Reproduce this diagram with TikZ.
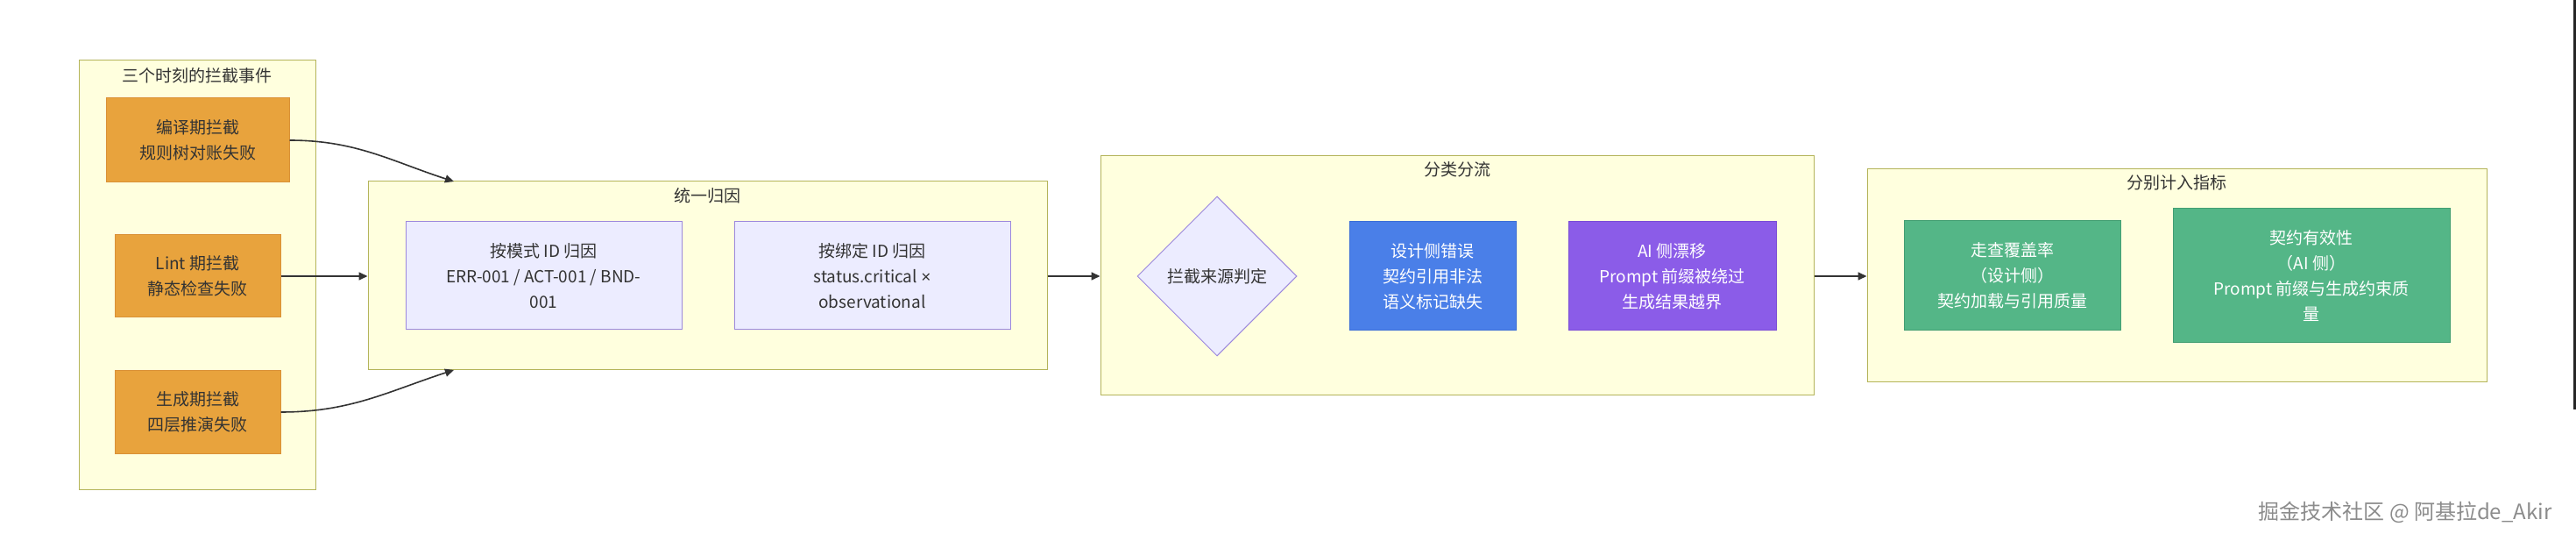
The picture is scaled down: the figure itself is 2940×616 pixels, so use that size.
\documentclass[tikz,border=0pt]{standalone}
\usepackage{fontspec}
\setmainfont{Noto Sans CJK SC}
\newfontfamily\symfont{Liberation Sans}
\usetikzlibrary{arrows.meta, shapes.geometric}

\definecolor{grpfill}{HTML}{FFFFDE}
\definecolor{grpline}{HTML}{B4B45A}
\definecolor{evtfill}{HTML}{E8A33D}
\definecolor{evtline}{HTML}{D99136}
\definecolor{attrfill}{HTML}{ECECFF}
\definecolor{attrline}{HTML}{9C88DC}
\definecolor{designfill}{HTML}{4A7FE8}
\definecolor{designline}{HTML}{3B6DD6}
\definecolor{driftfill}{HTML}{8B5CE8}
\definecolor{driftline}{HTML}{7A4BD6}
\definecolor{metricfill}{HTML}{54B687}
\definecolor{metricline}{HTML}{439E72}
\definecolor{txt}{HTML}{333333}

\tikzset{
  grp/.style={draw=grpline, fill=grpfill, line width=0.5pt, inner sep=0pt},
  grptitle/.style={text=txt},
  evt/.style={draw=evtline, fill=evtfill, text=txt, align=center, line width=0.5pt},
  attr/.style={draw=attrline, fill=attrfill, text=txt, align=center, line width=0.5pt},
  judge/.style={diamond, aspect=1, draw=attrline, fill=attrfill, text=txt, inner sep=0pt, line width=0.5pt},
  design/.style={draw=designline, fill=designfill, text=white, align=center, line width=0.5pt},
  drift/.style={draw=driftline, fill=driftfill, text=white, align=center, line width=0.5pt},
  metric/.style={draw=metricline, fill=metricfill, text=white, align=center, line width=0.5pt},
  flow/.style={draw=txt, line width=0.8pt},
  wmark/.style={text=black!45, font=\fontsize{12}{14}\selectfont}
}

\begin{document}
\begin{tikzpicture}[x=0.5pt, y=0.5pt, >={Triangle[length=5pt, width=4.5pt]},
    font=\fontsize{9.5}{14.5}\selectfont]
  \fill[white] (0,0) rectangle (2940,616);
  \useasboundingbox (0,0) rectangle (2940,616);

  % Groups
  \node[grp, minimum width=135pt, minimum height=245pt] (g1) at (225,302) {};
  \node[grp, minimum width=387.5pt, minimum height=107.5pt] (g2) at (807.5,301.5) {};
  \node[grp, minimum width=407pt, minimum height=136.5pt] (g3) at (1663,301.5) {};
  \node[grp, minimum width=353.5pt, minimum height=121.5pt] (g4) at (2484.5,301.5) {};
  \node[grptitle] (t1) at (225,530) {三个时刻的拦截事件};
  \node[grptitle] (t2) at (807.5,393) {统一归因};
  \node[grptitle] (t3) at (1663,423) {分类分流};
  \node[grptitle] (t4) at (2484.5,408) {分别计入指标};

  % Nodes
  \node[evt, minimum width=104.5pt, minimum height=48pt] (a) at (225.5,456) {编译期拦截\\规则树对账失败};
  \node[evt, minimum width=94.5pt, minimum height=47pt] (b) at (225.5,301) {Lint 期拦截\\静态检查失败};
  \node[evt, minimum width=94.5pt, minimum height=47.5pt] (c) at (225.5,146) {生成期拦截\\四层推演失败};
  \node[attr, minimum width=157.5pt, minimum height=61.5pt] (p) at (620.5,301.5) {按模式 ID 归因\\ERR-001 / ACT-001 / BND-\\001};
  \node[attr, minimum width=157.5pt, minimum height=61.5pt] (q) at (995.5,301.5) {按绑定 ID 归因\\status.critical {\symfont ×}\\observational};
  \node[judge, minimum width=91pt, minimum height=91pt] (d) at (1389,301) {拦截来源判定};
  \node[design, minimum width=95pt, minimum height=62pt] (e) at (1635,301) {设计侧错误\\契约引用非法\\语义标记缺失};
  \node[drift, minimum width=118.5pt, minimum height=62pt] (f) at (1908.5,301) {AI 侧漂移\\Prompt 前缀被绕过\\生成结果越界};
  \node[metric, minimum width=123.5pt, minimum height=62.5pt] (m1) at (2296.5,301.5) {走查覆盖率\\（设计侧）\\契约加载与引用质量};
  \node[metric, minimum width=158pt, minimum height=76.5pt] (m2) at (2638,301.5) {契约有效性\\（AI 侧）\\Prompt 前缀与生成约束质\\量};
  \coordinate (g2in1) at (518,409);
  \coordinate (g2in2) at (518,194);

  % Arrows
  \draw[->, flow] (a.east) to[out=0, in=162] (g2in1);
  \draw[->, flow] (b.east) -- (b.east -| g2.west);
  \draw[->, flow] (c.east) to[out=0, in=198] (g2in2);
  \draw[->, flow] (g2.east |- b.east) -- (g3.west |- b.east);
  \draw[->, flow] (g3.east |- b.east) -- (g4.west |- b.east);

  \node[wmark] (w) at (2745,32) {掘金技术社区 @ 阿基拉de\_Akir};
  \fill[black!85] (2937,149) rectangle (2940,616);
\end{tikzpicture}
\end{document}
